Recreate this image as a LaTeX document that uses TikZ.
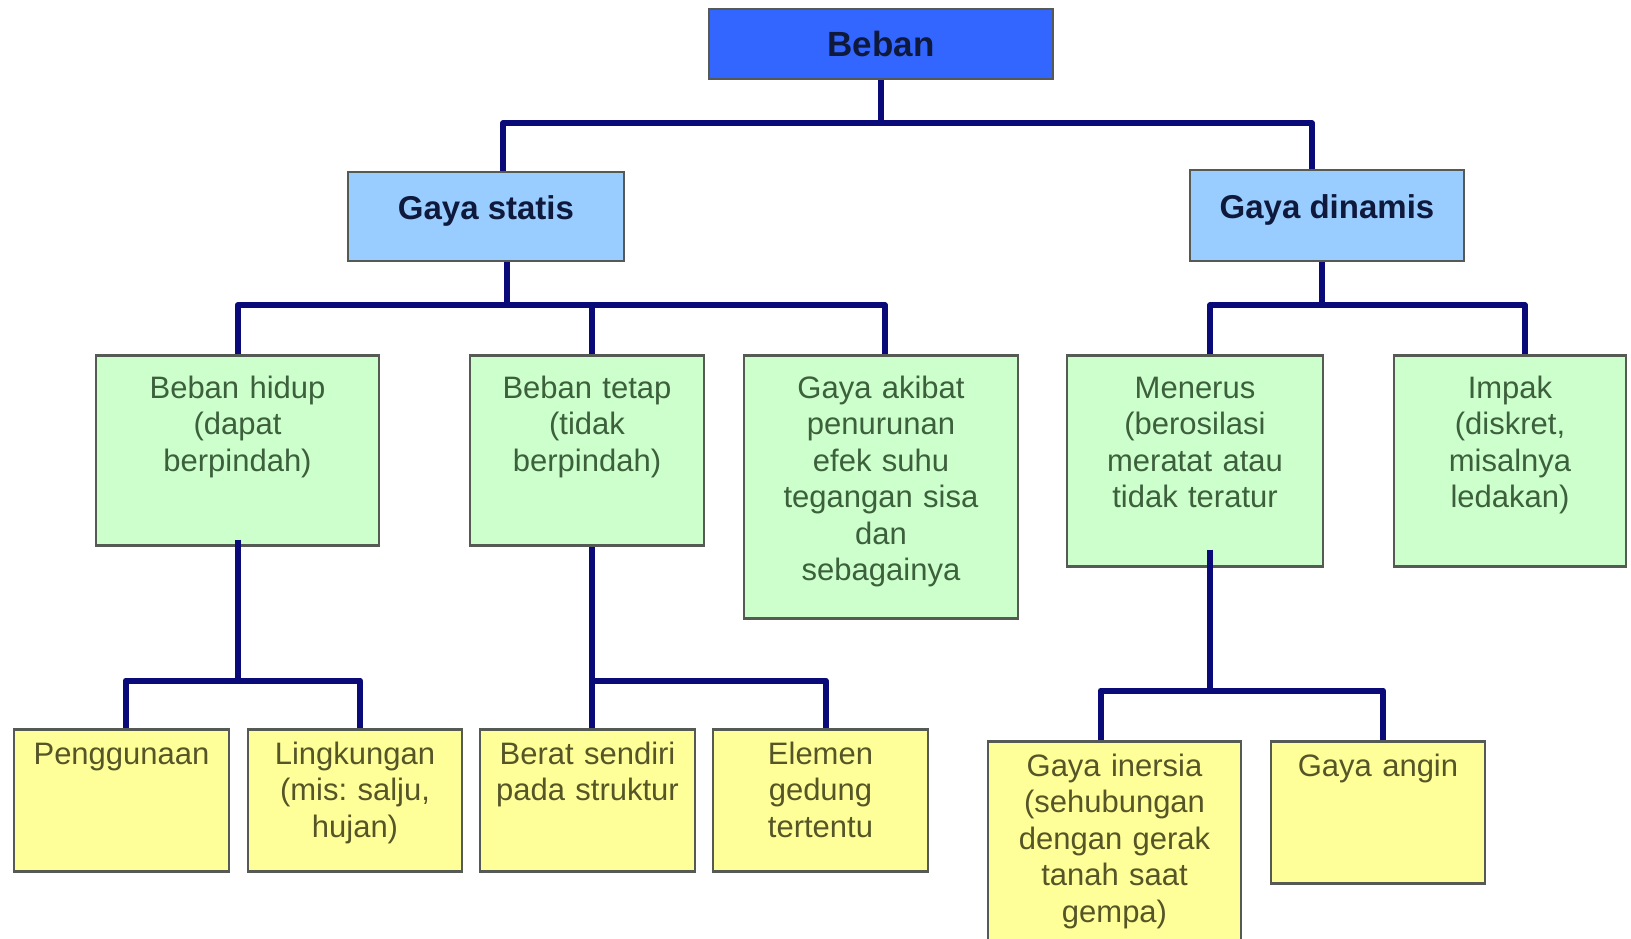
\documentclass[tikz,border=0pt]{standalone}
\usepackage{fontspec}
\setmainfont{Liberation Sans}
\usepackage{tikz}
\usetikzlibrary{calc}
\definecolor{topblue}{RGB}{51,102,255}
\definecolor{midblue}{RGB}{153,204,255}
\definecolor{leafgreen}{RGB}{204,255,204}
\definecolor{leafyellow}{RGB}{255,255,153}
\definecolor{linknavy}{RGB}{10,10,120}
\definecolor{framegray}{RGB}{85,90,85}
\definecolor{headtext}{RGB}{15,25,60}
\definecolor{greentext}{RGB}{60,95,60}
\definecolor{yellowtext}{RGB}{85,85,40}

\begin{document}
\begin{tikzpicture}[
  x=1pt, y=-1pt,
  head/.style={draw=framegray, line width=2.5pt, fill=#1, inner sep=0pt, text=headtext,
    font=\fontsize{33}{38}\selectfont\bfseries},
  leaf/.style={draw=framegray, line width=2.5pt, fill=#1, anchor=north, inner xsep=5pt, inner ysep=0pt,
    align=center, font=\fontsize{31}{36.5}\selectfont},
  greenleaf/.style={leaf=leafgreen, text=greentext, text height=43pt},
  yellowleaf/.style={leaf=leafyellow, text=yellowtext, text height=35pt},
  link/.style={draw=linknavy, line width=6pt, line join=round},
]
  \useasboundingbox[fill=white] (0,0) rectangle (1631,939);

  % Root
  \node[head=topblue, minimum width=344pt, minimum height=70pt,
        font=\fontsize{35}{40}\selectfont\bfseries] (beban) at (881,44) {Beban};

  % Second level
  \node[head=midblue, minimum width=276pt, minimum height=89pt, text depth=17pt] (statis) at (486,216.5) {Gaya statis};
  \node[head=midblue, minimum width=274pt, minimum height=91pt, text depth=17pt] (dinamis) at (1327,215.5) {Gaya dinamis};

  % Third level (green)
  \node[greenleaf, text width=273pt, text depth=147pt] (hidup) at (237.5,354) {Beban hidup\\(dapat\\berpindah)};
  \node[greenleaf, text width=224pt, text depth=147pt] (tetap) at (587,354) {Beban tetap\\(tidak\\berpindah)};
  \node[greenleaf, text width=264pt, text depth=220pt] (akibat) at (881,354) {Gaya akibat\\penurunan\\efek suhu\\tegangan sisa\\dan\\sebagainya};
  \node[greenleaf, text width=246pt, text depth=168pt] (menerus) at (1195,354) {Menerus\\(berosilasi\\meratat atau\\tidak teratur};
  \node[greenleaf, text width=222pt, text depth=168pt] (impak) at (1510,354) {Impak\\(diskret,\\misalnya\\ledakan)};

  % Fourth level (yellow)
  \node[yellowleaf, text width=205pt, text depth=107pt] (guna) at (121.5,728) {Penggunaan};
  \node[yellowleaf, text width=204pt, text depth=107pt] (lingkungan) at (355,728) {Lingkungan\\(mis:\ salju,\\hujan)};
  \node[yellowleaf, text width=205pt, text depth=107pt] (berat) at (587.5,728) {Berat sendiri\\pada struktur};
  \node[yellowleaf, text width=205pt, text depth=107pt] (elemen) at (820.5,728) {Elemen\\gedung\\tertentu};
  \node[yellowleaf, text width=243pt, text depth=180pt] (inersia) at (1114.5,740) {Gaya inersia\\(sehubungan\\dengan gerak\\tanah saat\\gempa)};
  \node[yellowleaf, text width=204pt, text depth=107pt] (angin) at (1378,740) {Gaya angin};

  % Connectors
  \draw[link] (beban.south) -- ++(0,43) coordinate (bustop);
  \draw[link] ([xshift=17pt]statis.north) |- (bustop) -| ([xshift=-15pt]dinamis.north);

  \draw[link] ([xshift=21pt]statis.south) -- ++(0,43) coordinate (busstatis);
  \draw[link] (hidup.north) |- (busstatis) -| ([xshift=4pt]akibat.north);
  \draw[link] ([xshift=5pt]tetap.north) |- (busstatis);

  \draw[link] ([xshift=-5pt]dinamis.south) -- ++(0,43) coordinate (busdinamis);
  \draw[link] ([xshift=15pt]menerus.north) |- (busdinamis) -| ([xshift=15pt]impak.north);

  \draw[link] ([yshift=7pt]hidup.south) -- ++(0,141) coordinate (bushidup);
  \draw[link] ([xshift=4pt]guna.north) |- (bushidup) -| ([xshift=5pt]lingkungan.north);

  \draw[link] ([xshift=5pt]tetap.south) -- ++(0,134) coordinate (bustetap);
  \draw[link] ([xshift=4.5pt]berat.north) |- (bustetap) -| ([xshift=5pt]elemen.north);

  \draw[link] ([xshift=15pt,yshift=18pt]menerus.south) -- ++(0,141) coordinate (busmenerus);
  \draw[link] ([xshift=-14pt]inersia.north) |- (busmenerus) -| ([xshift=5pt]angin.north);
\end{tikzpicture}
\end{document}
